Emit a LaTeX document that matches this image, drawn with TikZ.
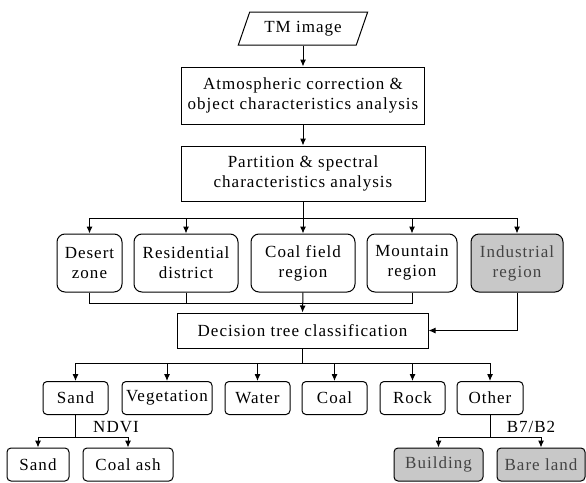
\documentclass[tikz,border=0pt]{standalone}
\usepackage{fontspec}
\setmainfont{Liberation Serif}[LetterSpace=6]
\usetikzlibrary{shapes.geometric,arrows.meta}
\definecolor{boxgray}{HTML}{C8C8C8}
\definecolor{txtgray}{HTML}{444444}
\tikzset{
  base/.style={draw, line width=1pt, inner sep=0pt, align=center,
    font=\fontsize{17}{20}\selectfont},
  sqbox/.style={base, rectangle},
  regbox/.style={base, rectangle, rounded corners=8pt, minimum height=58pt},
  leafbox/.style={base, rectangle, rounded corners=4pt, minimum height=33pt},
  graybox/.style={fill=boxgray, text=txtgray},
  arr/.style={-{Latex[length=7pt,width=6pt]}, line width=1pt},
  ln/.style={line width=1pt},
  lbl/.style={inner sep=0pt, font=\fontsize{17}{20}\selectfont}
}
\begin{document}
\begin{tikzpicture}[x=1pt,y=-1pt]
\useasboundingbox (0,0) rectangle (586,482);
\node[base, trapezium, trapezium left angle=61, trapezium right angle=119,
  trapezium stretches=true, minimum width=130pt, minimum height=33pt] (tm) at (303,28.5) {TM image};
\node[sqbox, minimum width=243pt, minimum height=57pt] (atm) at (303,95.5)
  {Atmospheric correction \&\\object characteristics analysis};
\node[sqbox, minimum width=244pt, minimum height=55pt] (part) at (303,173.5)
  {Partition \& spectral\\characteristics analysis};
\node[regbox, minimum width=65pt] (desert) at (89.5,263) {Desert\\zone};
\node[regbox, minimum width=104pt] (resid) at (186,263) {Residential\\district};
\node[regbox, minimum width=104pt] (coalf) at (303,263) {Coal field\\region};
\node[regbox, minimum width=90pt] (mount) at (412,263) {Mountain\\region};
\node[regbox, graybox, minimum width=92pt] (indus) at (517,263) {Industrial\\region};
\node[sqbox, minimum width=251pt, minimum height=35pt] (dec) at (302.5,330.5) {Decision tree classification};
\node[leafbox, minimum width=65pt] (sand) at (75.5,398) {Sand};
\node[leafbox, minimum width=90pt] (veg) at (167,398) {Vegetation};
\node[leafbox, minimum width=65pt] (water) at (257.5,398) {Water};
\node[leafbox, minimum width=65pt] (coal) at (334.5,398) {Coal};
\node[leafbox, minimum width=65pt] (rock) at (412.5,398) {Rock};
\node[leafbox, minimum width=66pt] (other) at (490,398) {Other};
\node[leafbox, minimum width=62pt] (sandb) at (38,464.5) {Sand};
\node[leafbox, minimum width=90pt] (ash) at (128,464.5) {Coal ash};
\node[leafbox, graybox, minimum width=89pt] (build) at (438.5,464.5) {Building};
\node[leafbox, graybox, minimum width=88pt] (bare) at (541,464.5) {Bare land};
\node[lbl] (ndvi) at (116,427) {NDVI};
\node[lbl] (b7) at (531,427) {B7/B2};
\coordinate (bus1) at (303,218);
\coordinate (bus2) at (303,303);
\coordinate (bus3) at (302.5,363);
\coordinate (bus4) at (75.5,437);
\coordinate (bus5) at (490,437);
\draw[arr] (tm) -- (atm);
\draw[arr] (atm) -- (part);
\draw[ln] (part.south) -- (bus1);
\foreach \n in {desert,resid,coalf,mount,indus} \draw[arr] (bus1) -| (\n.north);
\foreach \n in {desert,resid,mount} \draw[ln] (\n.south) |- (bus2);
\draw[arr] (coalf.south) -- (dec.north);
\draw[arr] (indus.south) |- (dec.east);
\draw[ln] (dec.south) -- (bus3);
\foreach \n in {sand,veg,water,coal,rock,other} \draw[arr] (bus3) -| (\n.north);
\draw[ln] (sand.south) -- (bus4);
\foreach \n in {sandb,ash} \draw[arr] (bus4) -| (\n.north);
\draw[ln] (other.south) -- (bus5);
\foreach \n in {build,bare} \draw[arr] (bus5) -| (\n.north);
\end{tikzpicture}
\end{document}
